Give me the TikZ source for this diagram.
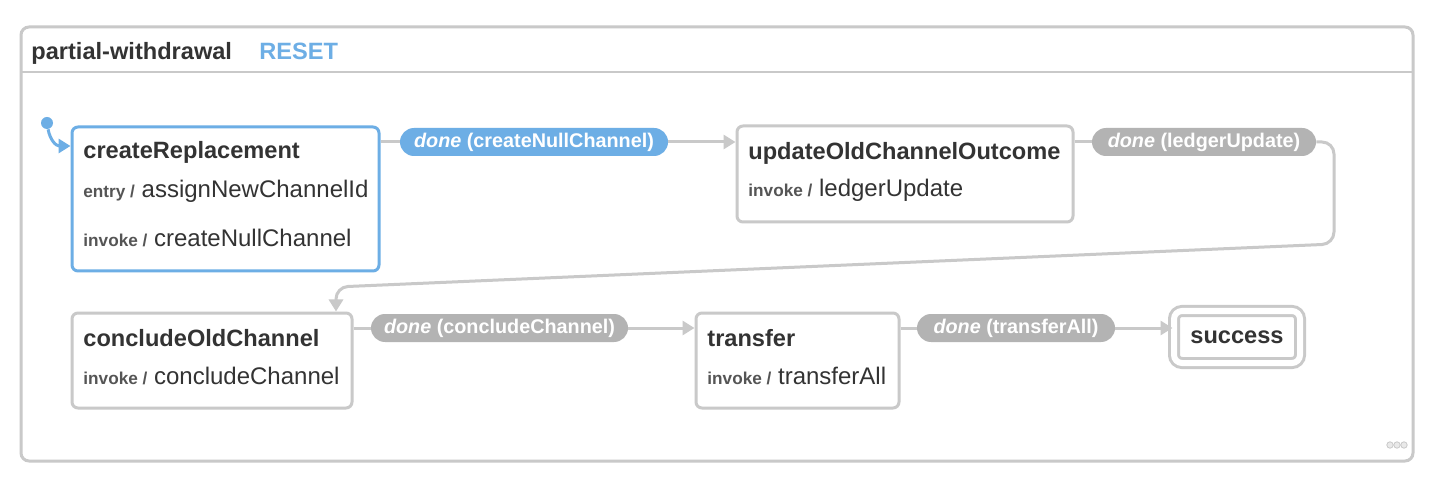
\documentclass[tikz,border=0pt]{standalone}
\usepackage{fontspec}
\setmainfont{Liberation Sans}
\usetikzlibrary{arrows.meta,positioning}

\definecolor{xblue}{HTML}{6DAEE5}
\definecolor{xgray}{HTML}{C9C9C9}
\definecolor{xpill}{HTML}{B3B3B3}
\definecolor{xtext}{HTML}{333333}
\definecolor{xlabel}{HTML}{555555}

\tikzset{
  statebox/.style={draw=xgray, line width=1.5pt, rounded corners=3pt, fill=white, inner sep=0pt},
  link/.style={draw=xgray, line width=1.5pt},
  edge/.style={link, -{Triangle[length=6pt,width=7pt]}},
  pill/.style={fill=xpill, text=white, rounded corners=7pt, minimum height=14pt, inner sep=0pt,
               font=\fontsize{9.9}{11}\selectfont\bfseries},
  title/.style={anchor=base west, inner sep=0pt, text=xtext, font=\fontsize{11.8}{14}\selectfont\bfseries},
  act/.style={anchor=base west, inner sep=0pt, text=xtext, font=\fontsize{12}{14}\selectfont},
}
\newcommand{\kind}[1]{{\fontsize{8.6}{10}\selectfont\bfseries\color{xlabel}#1 /}\ }

\begin{document}
\begin{tikzpicture}[x=0.5pt, y=-0.5pt]
    \useasboundingbox[fill=white] (0,0) rectangle (1440,486);

    % machine frame and header
    \draw[xgray, line width=1.5pt, fill=white, rounded corners=4pt] (21,27) rectangle (1413,461);
    \draw[xgray, line width=1pt] (21,72) -- (1413,72);
    \node[title] (machine) at (31,60) {partial-withdrawal};
    \node[title, text=xblue] (reset) at (259,60) {RESET};

    % states
    \node[statebox, draw=xblue, minimum width=153.5pt, minimum height=72pt] (cr) at (225.5,199) {};
    \node[statebox, minimum width=168pt, minimum height=48pt] (uo) at (905,174) {};
    \node[statebox, minimum width=140pt, minimum height=47.5pt] (co) at (212,360.5) {};
    \node[statebox, minimum width=101.5pt, minimum height=47.5pt] (tr) at (797.5,360.5) {};
    \node[statebox, double=white, double distance=3pt, rounded corners=4pt,
          minimum width=63pt, minimum height=26pt, font=\fontsize{11.8}{14}\selectfont\bfseries,
          text=xtext] (sc) at (1237,337) {success};

    % state texts
    \node[title] (crname) at (83,159) {createReplacement};
    \node[act] (crentry) at (83,198) {\kind{entry}assignNewChannelId};
    \node[act] (crinvoke) at (83,247) {\kind{invoke}createNullChannel};
    \node[title] (uoname) at (748,160) {updateOldChannelOutcome};
    \node[act] (uoinvoke) at (748,197) {\kind{invoke}ledgerUpdate};
    \node[title] (coname) at (83,346) {concludeOldChannel};
    \node[act] (coinvoke) at (83,384) {\kind{invoke}concludeChannel};
    \node[title] (trname) at (707,346) {transfer};
    \node[act] (trinvoke) at (707,384) {\kind{invoke}transferAll};

    % initial state
    \node[circle, fill=xblue, minimum size=6pt, inner sep=0pt] (init) at (47,123) {};
    \draw[xblue, line width=1.5pt, -{Triangle[length=6pt,width=7pt]}]
        (init) .. controls (50,140) and (56,146) .. (cr.west |- 0,146);

    % transition labels
    \node[pill, fill=xblue, minimum width=134pt] (p1) at (534,142) {\textit{done} (createNullChannel)};
    \node[pill, minimum width=112pt] (p2) at (1204,142) {\textit{done} (ledgerUpdate)};
    \node[pill, minimum width=128.5pt] (p3) at (499.5,328) {\textit{done} (concludeChannel)};
    \node[pill, minimum width=99pt] (p4) at (1016,328) {\textit{done} (transferAll)};

    % transitions
    \draw[link] (cr.east |- p1) -- (p1.west);
    \draw[edge] (p1.east) -- (uo.west |- p1);
    \draw[link] (uo.east |- p2) -- (p2.west);
    \coordinate (bend) at (336,287);
    \draw[edge, rounded corners=6pt] (p2.east) -- (1334,142) -- (1334,244) -- (bend) -- (bend |- co.north);
    \draw[link] (co.east |- p3) -- (p3.west);
    \draw[edge] (p3.east) -- (tr.west |- p3);
    \draw[link] (tr.east |- p4) -- (p4.west);
    \draw[edge] (p4.east) -- (sc.west |- p4);

    % corner dots
    \foreach \dx in {1390,1397,1404}
        \filldraw[draw=xgray, fill=xgray!40, line width=0.4pt] (\dx,445) circle (1.6pt);
\end{tikzpicture}
\end{document}
